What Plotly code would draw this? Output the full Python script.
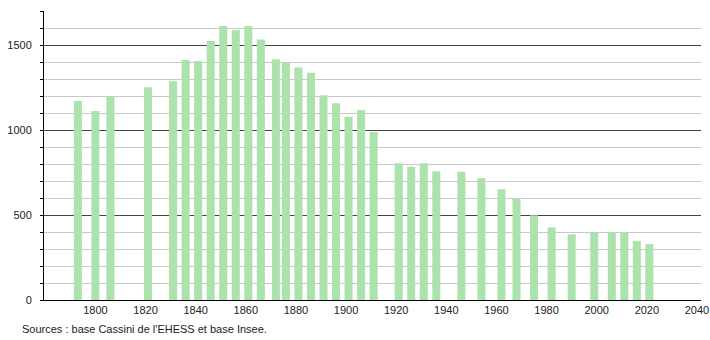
import plotly.graph_objects as go

years = [1793, 1800, 1806, 1821, 1831, 1836, 1841, 1846, 1851, 1856, 1861, 1866,
         1872, 1876, 1881, 1886, 1891, 1896, 1901, 1906, 1911, 1921, 1926, 1931,
         1936, 1946, 1954, 1962, 1968, 1975, 1982, 1990, 1999, 2006, 2011, 2016, 2021]
population = [1171, 1112, 1196, 1251, 1288, 1412, 1406, 1524, 1612, 1588, 1612, 1533,
              1416, 1400, 1367, 1337, 1204, 1157, 1078, 1118, 988, 804, 784, 804,
              757, 755, 716, 651, 596, 498, 427, 386, 396, 398, 398, 347, 329]
x_ticks = [1800, 1820, 1840, 1860, 1880, 1900, 1920, 1940, 1960, 1980, 2000, 2020, 2040]
source_text = "Sources : base Cassini de l'EHESS et base Insee."

fig = go.Figure()
fig.add_trace(go.Bar(
    x=years, y=population, width=3.2,
    marker=dict(color="rgb(172,226,172)", line=dict(width=0)),
    hoverinfo="x+y",
))

fig.update_layout(
    width=710, height=340,
    margin=dict(l=44, r=9, t=11, b=40, autoexpand=False),
    paper_bgcolor="white", plot_bgcolor="white",
    showlegend=False,
    font=dict(family="Liberation Sans, Arial, sans-serif", size=11, color="#222"),
    xaxis=dict(
        range=[1779.5, 2041.6], tickvals=x_ticks, showgrid=False, zeroline=False,
        showline=True, linecolor="black", linewidth=1, ticks="", ticklen=0,
        tickfont=dict(size=11, color="#222"), ticklabeloverflow="allow",
        automargin=False,
    ),
    yaxis=dict(
        range=[0, 1700], dtick=500, tick0=0, showgrid=True, gridcolor="#444",
        gridwidth=1, zeroline=False, showline=True, linecolor="black", linewidth=1,
        ticks="outside", ticklen=3, tickcolor="black", ticklabelstandoff=6,
        tickfont=dict(size=11, color="#222"), automargin=False,
        minor=dict(dtick=100, showgrid=True, gridcolor="#c8c8c8", gridwidth=1,
                   ticks="outside", ticklen=3, tickcolor="black"),
    ),
    annotations=[dict(
        text=source_text, xref="paper", yref="paper",
        x=-24/657, y=-21/289, xanchor="left", yanchor="top",
        showarrow=False, font=dict(size=11, color="#222"),
    )],
)

fig.write_html("out.html")
